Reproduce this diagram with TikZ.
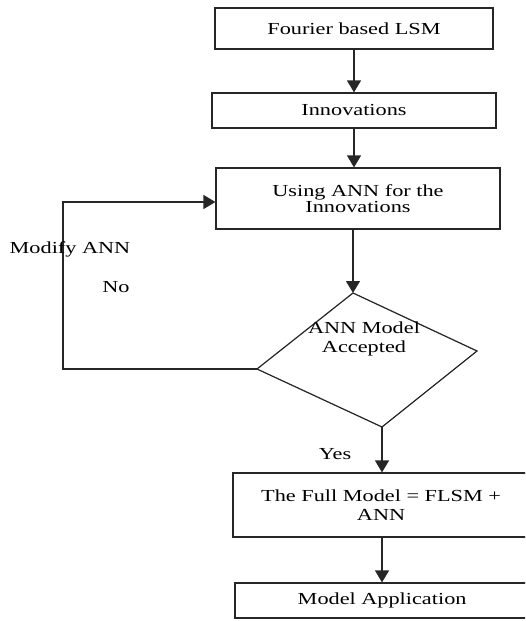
\documentclass[tikz,border=0pt]{standalone}
\usepackage{fontspec}
\setmainfont{Liberation Serif}[FakeStretch=1.32]
\usetikzlibrary{arrows.meta}

\begin{document}
\begin{tikzpicture}[x=0.02cm, y=-0.02cm, ->, >={Triangle[length=0.24cm, width=0.28cm]}, line width=0.7pt, font=\fontsize{9.6}{10.5}\selectfont]
\clip (0,0) rectangle (525,621);
\tikzstyle{every node} = [draw, rectangle, align=center, inner sep=0pt, color=black!85, text=black]
\node[minimum width=5.56cm, minimum height=0.82cm] (1) at (354,28.5) {Fourier based LSM};
\node[minimum width=5.68cm, minimum height=0.70cm] (2) at (354,110.5) {Innovations};
\node[minimum width=5.68cm, minimum height=1.22cm] (3) at (358,198.5) {Using ANN for the\\[-1pt]Innovations};
\node[minimum width=6.10cm, minimum height=1.28cm] (5) at (385.5,505) {\hspace*{-5pt}The Full Model = FLSM +\\\hspace*{-5pt}ANN};
\node[minimum width=6.06cm, minimum height=0.70cm] (6) at (386.5,600.5) {\hspace*{-5pt}Model Application};
\tikzstyle{every node} = [align=center]
% decision
\coordinate (4t) at (353,293);
\coordinate (4r) at (477,351);
\coordinate (4b) at (382,427);
\coordinate (4l) at (257,369);
\draw[-, black!85] (4t) -- (4r) -- (4b) -- (4l) -- cycle;
\node (4) at (364,339) {ANN Model\\Accepted};
% loop back
\coordinate (c1) at (63,369);
\coordinate (c2) at (63,202);
\draw[black!85] (1) -- (2);
\draw[black!85] (2) -- (2 |- 3.north);
\draw[black!85] (3.south -| 4t) -- (4t);
\draw[black!85] (4l) -- (c1) -- (c2) -- (c2 -| 3.west);
\draw[black!85] (4b) -- (4b |- 5.north);
\draw[black!85] (5.south -| 4b) -- (4b |- 6.north);
\node (m) at (70,249) {Modify ANN};
\node (no) at (116,287) {No};
\node (yes) at (335,454) {Yes};
\end{tikzpicture}
\end{document}
